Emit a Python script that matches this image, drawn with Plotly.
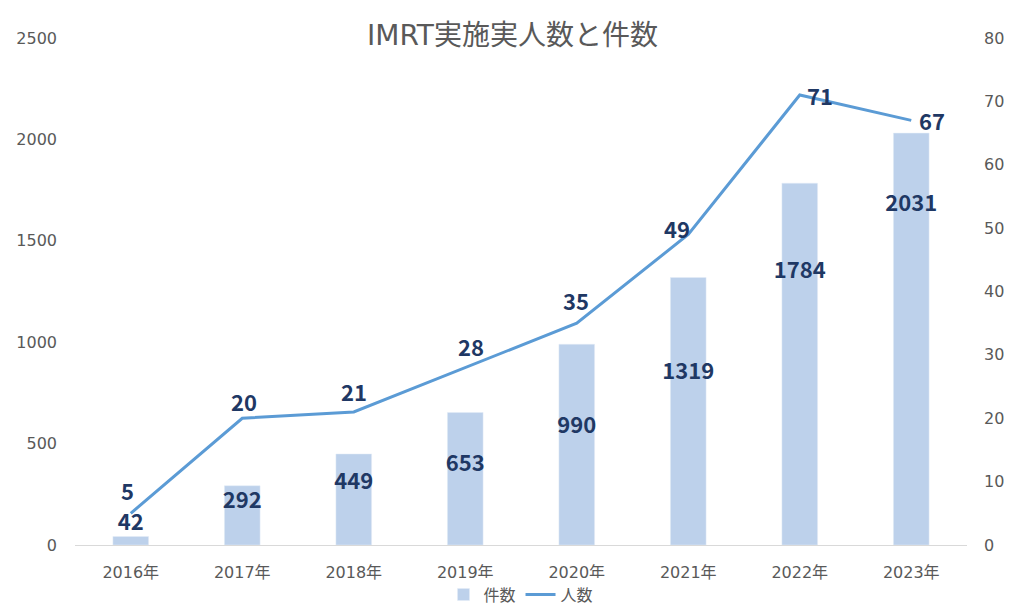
import plotly.graph_objects as go

years = ["2016年", "2017年", "2018年", "2019年", "2020年", "2021年", "2022年", "2023年"]
cases = [42, 292, 449, 653, 990, 1319, 1784, 2031]
patients = [5, 20, 21, 28, 35, 49, 71, 67]

# label placement for bar value labels (left-axis units), as placed in the reference
case_label_pos = [99, 212, 301, 394, 577, 848, 1346, 1672]
# pixel offsets of the line value labels from their points
patient_label_dx = [-3, 2, 0, 6, -1, -11, 20, 21]
patient_label_dy = [23, 17, 21, 22, 23, 6, 0, 0]

FONT = "DejaVu Sans, Noto Sans CJK JP"
LABEL_COLOR = "#1F3864"
TICK_COLOR = "#595959"
LABEL_FONT = dict(family="Noto Sans CJK JP", size=22, color=LABEL_COLOR, weight="bold")

fig = go.Figure()
fig.add_trace(go.Bar(
    x=years, y=cases, name="件数", marker_color="#BDD1EB",
    width=0.32, yaxis="y", hoverinfo="x+y",
))
fig.add_trace(go.Scatter(
    x=years, y=patients, name="人数", mode="lines", yaxis="y2",
    line=dict(color="#5B9BD5", width=3),
))
fig.add_trace(go.Scatter(
    x=years, y=case_label_pos, mode="text", yaxis="y", showlegend=False,
    text=[str(v) for v in cases], textposition="middle center",
    textfont=LABEL_FONT, hoverinfo="skip", cliponaxis=False,
))

annotations = []
for x, v, dx, dy in zip(years, patients, patient_label_dx, patient_label_dy):
    annotations.append(dict(
        x=x, y=v, xref="x", yref="y2", text=str(v), showarrow=False,
        xshift=dx, yshift=dy, xanchor="center", yanchor="middle", font=LABEL_FONT,
    ))

fig.update_layout(
    width=1025, height=613,
    margin=dict(l=75, r=58, t=38, b=68),
    paper_bgcolor="white", plot_bgcolor="white",
    font=dict(family=FONT, color=TICK_COLOR, size=16),
    title=dict(text="IMRT実施実人数と件数", x=0.5, xanchor="center", y=0.943, yanchor="middle",
               font=dict(family=FONT, size=28, color=TICK_COLOR)),
    xaxis=dict(showgrid=False, showline=True, linecolor="#D9D9D9", linewidth=1,
               ticks="", automargin=False, ticklabelstandoff=13,
               tickfont=dict(size=16, color=TICK_COLOR)),
    yaxis=dict(range=[0, 2500], dtick=500, showgrid=False, zeroline=False, automargin=False,
               ticks="", ticklabelstandoff=17, tickfont=dict(size=16, color=TICK_COLOR)),
    yaxis2=dict(range=[0, 80], dtick=10, overlaying="y", side="right", showgrid=False,
                zeroline=False, ticks="", ticklabelstandoff=16, automargin=False,
                tickfont=dict(size=16, color=TICK_COLOR)),
    legend=dict(orientation="h", x=0.5, xanchor="center", yref="container", y=0.03,
                yanchor="middle", font=dict(size=16, color=TICK_COLOR), traceorder="normal"),
    annotations=annotations,
    bargap=0.68,
)

fig.write_html("out.html", post_script="document.body.style.margin='0';",
               config={"displayModeBar": False})
